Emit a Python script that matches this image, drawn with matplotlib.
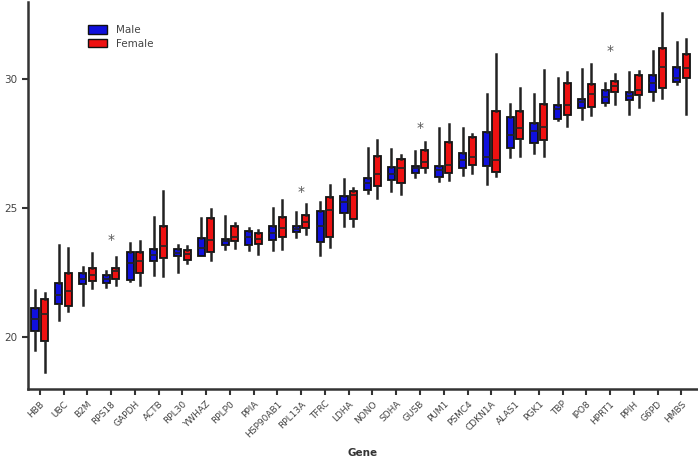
import matplotlib
matplotlib.use('Agg')
import matplotlib.pyplot as plt
from matplotlib.patches import Patch
import numpy as np

genes = ['HBB', 'UBC', 'B2M', 'RPS18', 'GAPDH', 'ACTB', 'RPL30', 'YWHAZ', 'RPLP0',
         'PPIA', 'HSP90AB1', 'RPL13A', 'TFRC', 'LDHA', 'NONO', 'SDHA', 'GUSB', 'PUM1',
         'PSMC4', 'CDKN1A', 'ALAS1', 'PGK1', 'TBP', 'IPO8', 'HPRT1', 'PPIH', 'G6PD', 'HMBS']

# five-number summaries: whisker low, Q1, median, Q3, whisker high
male = [
    [19.51, 20.24, 20.73, 21.15, 21.85],
    [20.69, 21.30, 21.66, 22.11, 23.59],
    [21.27, 22.07, 22.28, 22.50, 22.72],
    [21.96, 22.11, 22.27, 22.43, 22.56],
    [22.20, 22.24, 22.88, 23.31, 23.66],
    [22.43, 22.95, 23.20, 23.42, 24.68],
    [22.52, 23.14, 23.29, 23.42, 23.59],
    [23.15, 23.17, 23.46, 23.85, 24.62],
    [23.42, 23.59, 23.72, 23.81, 24.71],
    [23.40, 23.59, 23.91, 24.11, 24.24],
    [23.40, 23.78, 24.04, 24.30, 25.00],
    [23.91, 24.07, 24.20, 24.32, 24.88],
    [23.20, 23.68, 24.30, 24.90, 25.23],
    [24.32, 24.84, 25.26, 25.48, 26.13],
    [25.61, 25.71, 25.97, 26.17, 27.36],
    [25.69, 26.10, 26.33, 26.59, 27.29],
    [26.20, 26.38, 26.55, 26.64, 27.23],
    [26.07, 26.23, 26.49, 26.64, 28.10],
    [26.29, 26.55, 26.87, 27.13, 28.10],
    [25.95, 26.64, 27.00, 27.97, 29.45],
    [26.98, 27.36, 27.84, 28.54, 29.03],
    [27.13, 27.52, 28.00, 28.31, 29.42],
    [28.42, 28.48, 28.87, 29.00, 30.07],
    [28.48, 28.91, 29.12, 29.25, 30.41],
    [29.00, 29.09, 29.32, 29.60, 29.86],
    [28.65, 29.19, 29.34, 29.51, 30.28],
    [29.19, 29.51, 29.86, 30.19, 31.09],
    [29.81, 29.90, 30.07, 30.48, 31.44],
]
female = [
    [18.64, 19.86, 20.89, 21.50, 21.73],
    [21.02, 21.21, 21.79, 22.50, 23.46],
    [21.92, 22.17, 22.43, 22.69, 23.27],
    [22.05, 22.27, 22.56, 22.69, 23.12],
    [22.05, 22.50, 22.95, 23.31, 23.72],
    [22.37, 23.08, 23.53, 24.32, 25.69],
    [22.88, 23.01, 23.24, 23.40, 23.53],
    [23.01, 23.33, 23.78, 24.62, 24.97],
    [23.46, 23.72, 23.91, 24.32, 24.45],
    [23.24, 23.63, 23.81, 24.04, 24.17],
    [23.42, 23.91, 24.26, 24.66, 25.33],
    [24.02, 24.24, 24.49, 24.75, 25.17],
    [23.49, 23.91, 24.94, 25.43, 25.91],
    [24.32, 24.58, 25.52, 25.69, 25.78],
    [25.39, 25.87, 26.33, 27.04, 27.64],
    [25.56, 25.97, 26.55, 26.90, 27.07],
    [26.42, 26.55, 26.81, 27.26, 27.58],
    [26.10, 26.36, 26.68, 27.58, 28.29],
    [26.36, 26.68, 27.00, 27.77, 27.88],
    [26.25, 26.42, 26.87, 28.78, 30.99],
    [27.03, 27.71, 28.10, 28.78, 29.68],
    [27.03, 27.64, 28.16, 29.03, 30.37],
    [28.19, 28.61, 29.00, 29.86, 30.28],
    [28.61, 28.93, 29.42, 29.81, 30.61],
    [29.03, 29.51, 29.73, 29.94, 30.22],
    [28.93, 29.38, 29.60, 30.19, 30.32],
    [29.29, 29.68, 30.48, 31.22, 32.56],
    [28.65, 30.07, 30.45, 30.99, 31.57],
]
# significance marks (gene, y)
stars = [('RPS18', 23.78), ('RPL13A', 25.65), ('GUSB', 28.1), ('HPRT1', 31.09)]


def to_stats(rows):
    return [dict(whislo=r[0], q1=r[1], med=r[2], q3=r[3], whishi=r[4], fliers=[]) for r in rows]


fig = plt.figure(figsize=(6.98, 4.59), dpi=100)
ax = fig.add_axes([0.040, 0.1525, 0.96, 0.843])

x = np.arange(len(genes))
common = dict(widths=0.3, patch_artist=True, showcaps=False, showfliers=False,
              whiskerprops=dict(color='#222222', lw=1.8),
              medianprops=dict(color='#222222', lw=1.2))
ax.bxp(to_stats(male), positions=x - 0.2,
       boxprops=dict(facecolor='#1010dd', edgecolor='#111111', lw=1.3), **common)
ax.bxp(to_stats(female), positions=x + 0.2,
       boxprops=dict(facecolor='#ee1111', edgecolor='#111111', lw=1.3), **common)

for g, y in stars:
    ax.text(genes.index(g), y, '*', ha='center', va='center', fontsize=10, color='#555555')

ax.set_xlim(-0.5, 27.7)
ax.set_ylim(18, 33)
ax.set_xticks(x)
ax.set_xticklabels(genes, rotation=45, ha='right', rotation_mode='anchor',
                   fontsize=6.5, color='#444444')
ax.set_yticks([20, 25, 30])
ax.set_yticklabels(['20', '25', '30'], fontsize=7.5, color='#444444')
ax.set_xlabel('Gene', fontsize=7.5, fontweight='bold', color='#333333', labelpad=6)
for s in ['top', 'right']:
    ax.spines[s].set_visible(False)
for s in ['left', 'bottom']:
    ax.spines[s].set_linewidth(1.8)
    ax.spines[s].set_color('#333333')
ax.tick_params(width=1.5, length=4, color='#333333')

handles = [Patch(facecolor='#1010dd', edgecolor='#111111', label='Male'),
           Patch(facecolor='#ee1111', edgecolor='#111111', label='Female')]
ax.legend(handles=handles, loc='upper left', bbox_to_anchor=(0.075, 0.965), frameon=False,
          fontsize=7.5, handlelength=1.9, handleheight=0.9, labelspacing=0.35,
          labelcolor='#444444')

fig.savefig('out.png', dpi=100)
